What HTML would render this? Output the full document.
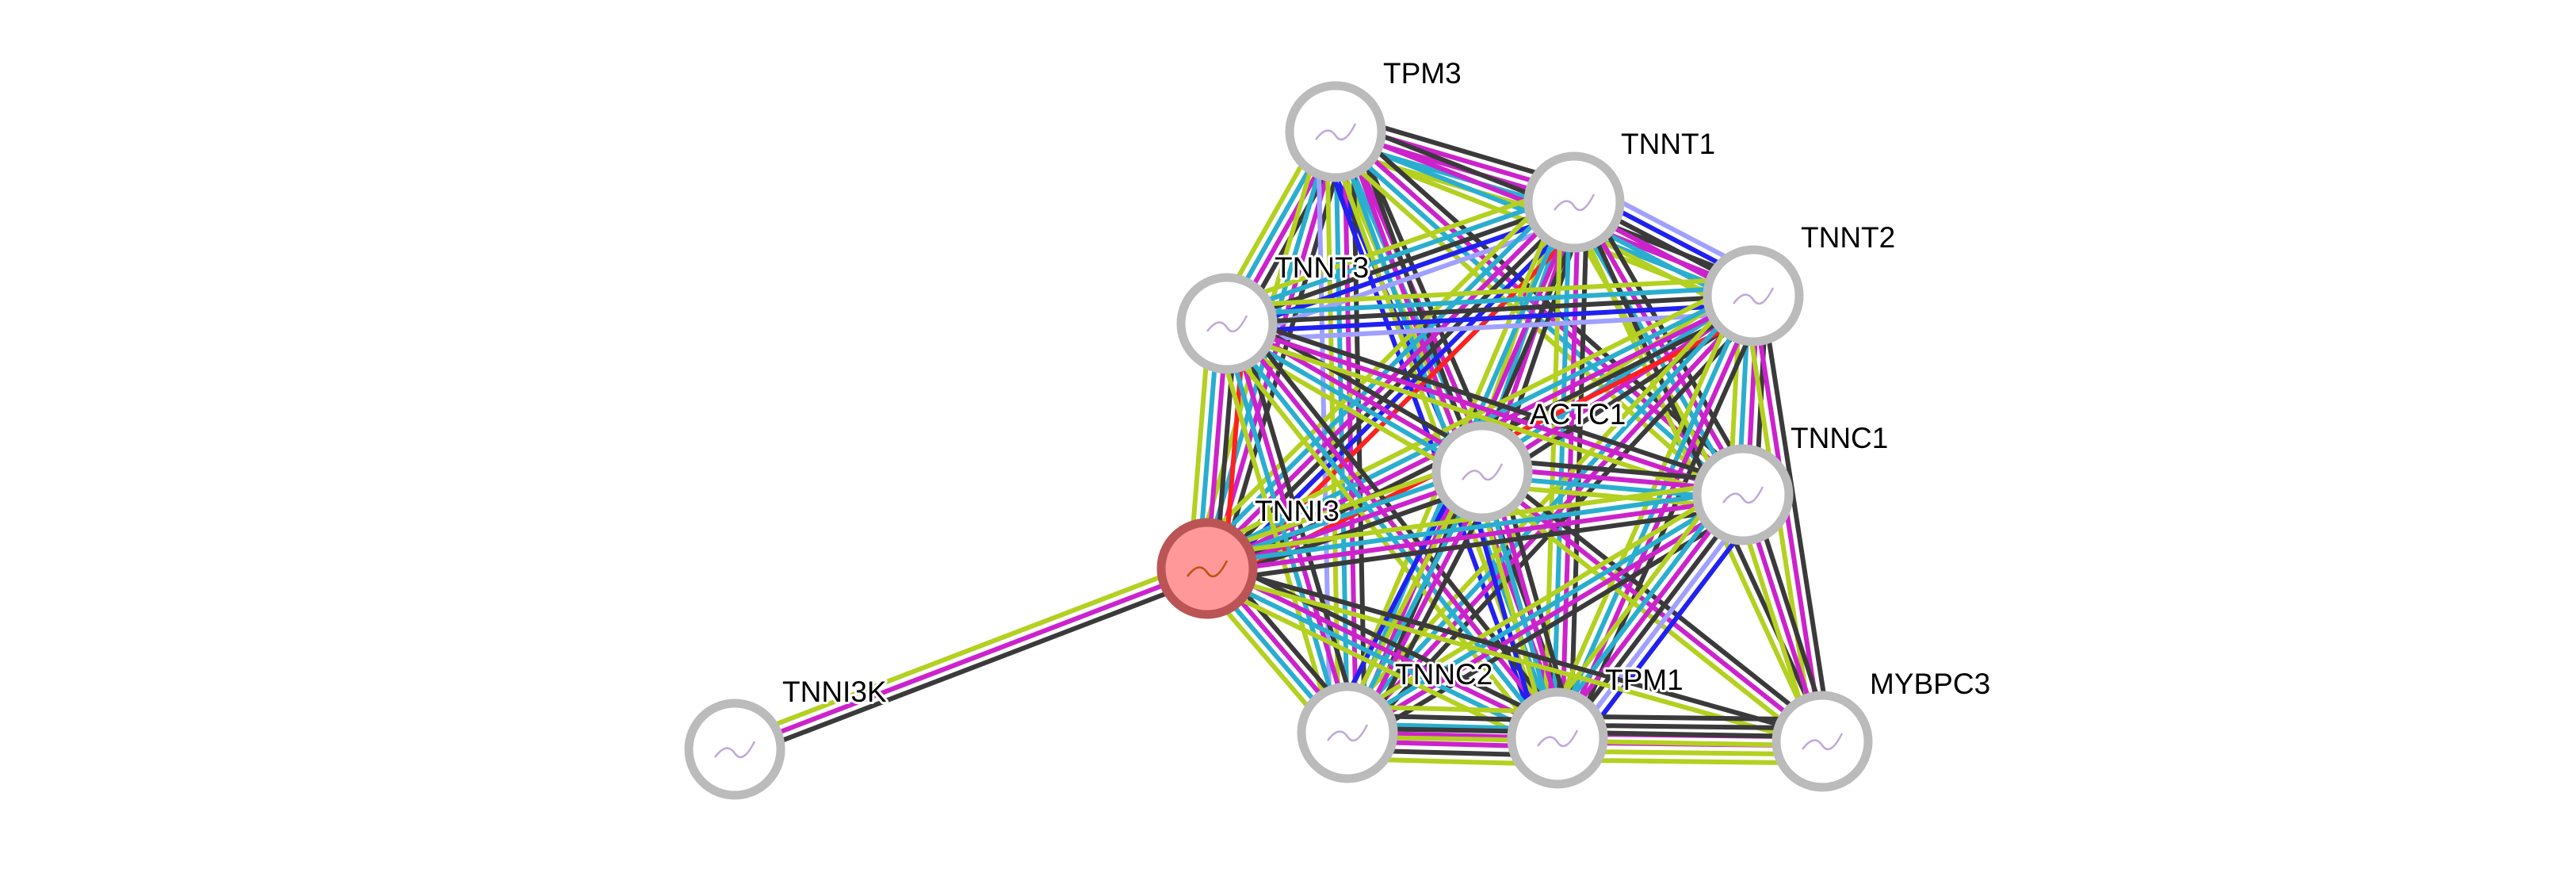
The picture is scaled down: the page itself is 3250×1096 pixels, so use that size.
<!DOCTYPE html>
<html><head><meta charset="utf-8"><style>
html,body{margin:0;padding:0;background:#fff;width:3250px;height:1096px;overflow:hidden}
svg{display:block}
text{font-family:"Liberation Sans",sans-serif;font-size:37px;fill:#000;paint-order:stroke;stroke:#fff;stroke-width:6px;stroke-linejoin:round}
</style></head><body>
<svg id="s" width="3250" height="1096" xmlns="http://www.w3.org/2000/svg">
<g id="edges"></g><g id="nodes"></g><g id="labels">
<text x="1745" y="105">TPM3</text>
<text x="2045" y="194">TNNT1</text>
<text x="2272" y="312">TNNT2</text>
<text x="1608" y="350">TNNT3</text>
<text x="1930" y="535">ACTC1</text>
<text x="2259" y="565">TNNC1</text>
<text x="1583" y="657">TNNI3</text>
<text x="987" y="885">TNNI3K</text>
<text x="1760" y="863">TNNC2</text>
<text x="2025" y="870">TPM1</text>
<text x="2359" y="875">MYBPC3</text>
</g></svg>
<script>
var N={TPM3:[1685,166],TNNT1:[1986,255],TNNT2:[2212,373],TNNT3:[1548,408],ACTC1:[1870,595],TNNC1:[2199,624],TNNI3:[1523,717],TNNI3K:[927,945],TNNC2:[1700,924],TPM1:[1965,931],MYBPC3:[2299,935]};
var C={k:"#3a3a3a",m:"#cc22cc",c:"#2aaed0",y:"#b4d020",b:"#2020f0",l:"#a0a0ff",r:"#ff2020"};
var E=[
["TPM3","TNNT1","kmmcy"],["TPM3","TNNT3","kmcy"],["TPM3","ACTC1","kmcyb"],["TPM3","TNNT2","kmcy"],["TPM3","TNNI3","kmcy"],["TPM3","TNNC2","kmcyl"],["TPM3","TPM1","kmcyb"],["TPM3","TNNC1","kmcy"],
["TNNT1","TNNT3","lbkcy"],["TNNT1","TNNT2","lbkmcy"],["TNNT1","ACTC1","kmcy"],["TNNT1","TNNI3","rbkmcy"],["TNNT1","TNNC1","kmcy"],["TNNT1","TNNC2","kmcy"],["TNNT1","TPM1","kmcy"],["TNNT1","MYBPC3","ky"],
["TNNT2","TNNT3","lbkcy"],["TNNT2","ACTC1","kmcy"],["TNNT2","TNNI3","rkmcy"],["TNNT2","TNNC1","kmcy"],["TNNT2","TNNC2","kmcy"],["TNNT2","TPM1","kmcy"],["TNNT2","MYBPC3","kmy"],
["TNNT3","TNNI3","rkmcy"],["TNNT3","ACTC1","kmcy"],["TNNT3","TNNC2","kmcy"],["TNNT3","TPM1","kmcy"],["TNNT3","TNNC1","kmy"],
["ACTC1","TNNI3","kmcy"],["ACTC1","TNNC1","kmcy"],["ACTC1","TNNC2","kmcyb"],["ACTC1","TPM1","kmcyb"],["ACTC1","MYBPC3","kmy"],
["TNNC1","TNNI3","kmcy"],["TNNC1","TNNC2","kmcy"],["TNNC1","TPM1","blkmcy"],["TNNC1","MYBPC3","kmy"],
["TNNI3","TNNI3K","kmy"],["TNNI3","TNNC2","kmcy"],["TNNI3","TPM1","kmcy"],["TNNI3","MYBPC3","ky"],
["TNNC2","TPM1","ykcmmky"],["TPM1","MYBPC3","kkmmyy"],["TNNC2","MYBPC3","ky"]];
var g=document.getElementById("edges"),h="";
E.forEach(function(e){var a=N[e[0]],b=N[e[1]],dx=b[0]-a[0],dy=b[1]-a[1],L=Math.hypot(dx,dy),px=-dy/L,py=dx/L,n=e[2].length,sp=11;
for(var i=0;i<n;i++){var o=(i-(n-1)/2)*sp;h+='<line x1="'+(a[0]+px*o)+'" y1="'+(a[1]+py*o)+'" x2="'+(b[0]+px*o)+'" y2="'+(b[1]+py*o)+'" stroke="'+C[e[2][i]]+'" stroke-width="6"/>';}});
g.innerHTML=h;
var nh="";for(var k in N){var p=N[k],q=k=="TNNI3";
nh+='<circle cx="'+p[0]+'" cy="'+p[1]+'" r="58" fill="'+(q?"#ff9999":"#fff")+'" stroke="'+(q?"#bb5555":"#bbbbbb")+'" stroke-width="11"/>';
nh+='<path d="M'+(p[0]-25)+' '+(p[1]+10)+' q15 -20 25 -5 t25 -15" fill="none" stroke="'+(q?"#c05010":"#c0a8d8")+'" stroke-width="2.5"/>';}
document.getElementById("nodes").innerHTML=nh;
</script>
</body></html>
